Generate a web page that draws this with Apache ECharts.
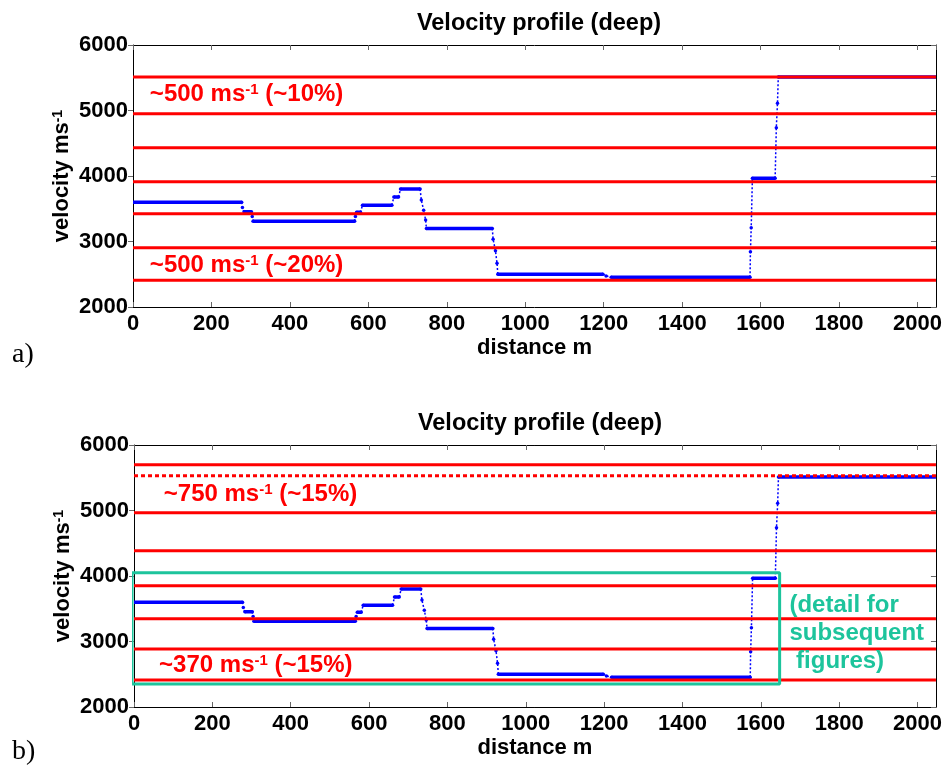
<!DOCTYPE html>
<html><head><meta charset="utf-8">
<script src="https://cdn.jsdelivr.net/npm/echarts@6/dist/echarts.min.js"></script>
<style>html,body{margin:0;padding:0;background:#fff}#c{width:945px;height:767px}</style>
</head><body><div id="c"></div>
<script>
// ---- data ----
const distanceMin = 0;
const distanceMax = 2047;
const distanceStep = 200;
const velocityMin = 2000;
const velocityMax = 6000;
const velocityStep = 1000;

const profileDistance = [0, 277, 279, 283, 302, 304, 306, 565, 567, 570, 580, 585, 660, 665, 677, 682, 732, 735, 741, 746, 748, 916, 918, 924, 928, 930, 1198, 1206, 1219, 1573, 1574, 1576, 1579, 1637, 1640, 1643, 1645, 2047];
const profileVelocity = [3600, 3600, 3520, 3455, 3455, 3380, 3310, 3310, 3380, 3445, 3445, 3555, 3555, 3680, 3680, 3800, 3800, 3634, 3476, 3328, 3200, 3200, 3033, 2860, 2667, 2500, 2500, 2475, 2455, 2455, 2845, 3211, 3965, 3965, 4738, 5110, 5510, 5510];

const boundsA = [5511, 4951, 4433, 3913, 3425, 2906, 2407];
const boundsB = [5700, 4967, 4387, 3852, 3348, 2885, 2412];
const boundsBDotted = [5530];

const detailBoxDistance = [-5, 1648];
const detailBoxVelocity = [2350, 4050];

const titleText = 'Velocity profile (deep)';
const xName = 'distance m';
const labelsA = ['~500 ms|-1| (~10%)', '~500 ms|-1| (~20%)'];
const labelsB = ['~750 ms|-1| (~15%)', '~370 ms|-1| (~15%)'];
const detailText = ['(detail for', 'subsequent', ' figures)'];
const panelTags = ['a)', 'b)'];

// ---- chart ----
const FONT = 'Arial, "Liberation Sans", Helvetica, sans-serif';
const chart = echarts.init(document.getElementById('c'));
const grids = [
  {left: 133, top: 45, right: 8, height: 262},
  {left: 134, top: 445, right: 8, height: 262}
];

const xAxes = [], yAxes = [];
grids.forEach((g, gi) => {
  const base = {type: 'value', gridIndex: gi, splitLine: {show: false}};
  xAxes.push(Object.assign({}, base, {
    position: 'bottom', min: distanceMin, max: distanceMax, interval: distanceStep,
    name: xName, nameLocation: 'middle', nameGap: 30, nameMoveOverlap: false,
    nameTextStyle: {fontFamily: FONT, fontWeight: 'bold', fontSize: 22, color: '#000'},
    axisLine: {show: true, onZero: false, lineStyle: {color: '#000', width: 1}},
    axisTick: {show: true, inside: true, length: 5, lineStyle: {color: '#666'}},
    axisLabel: {show: true, margin: 6, showMaxLabel: false, fontFamily: FONT, fontWeight: 'bold', fontSize: 22, color: '#000',
      formatter: v => (v % distanceStep === 0 ? String(v) : '')}
  }));
  xAxes.push(Object.assign({}, base, {
    position: 'top', min: distanceMin, max: distanceMax, interval: distanceStep,
    axisLine: {show: true, onZero: false, lineStyle: {color: '#000', width: 1}},
    axisTick: {show: true, inside: true, length: 5, lineStyle: {color: '#666'}},
    axisLabel: {show: false}
  }));
  yAxes.push(Object.assign({}, base, {
    position: 'left', min: velocityMin, max: velocityMax, interval: velocityStep,
    name: '{a|velocity ms}{s|-1}', nameLocation: 'middle', nameRotate: 90, nameGap: 60, nameMoveOverlap: false,
    nameTextStyle: {rich: {
      a: {fontFamily: FONT, fontWeight: 'bold', fontSize: 22, color: '#000'},
      s: {fontFamily: FONT, fontWeight: 'bold', fontSize: 14, color: '#000', verticalAlign: 'top'}
    }},
    axisLine: {show: true, onZero: false, lineStyle: {color: '#000', width: 1}},
    axisTick: {show: true, inside: false, length: 5, lineStyle: {color: '#666'}},
    axisLabel: {show: true, margin: 5, fontFamily: FONT, fontWeight: 'bold', fontSize: 22, color: '#000',
      formatter: v => String(v)}
  }));
  yAxes.push(Object.assign({}, base, {
    position: 'right', min: velocityMin, max: velocityMax, interval: velocityStep,
    axisLine: {show: true, onZero: false, lineStyle: {color: '#000', width: 1}},
    axisTick: {show: true, inside: true, length: 5, lineStyle: {color: '#666'}},
    axisLabel: {show: false}
  }));
});

const series = [];
function addProfile(gi) {
  const ax = {xAxisIndex: gi * 2, yAxisIndex: gi * 2};
  const plateau = d => Object.assign({type: 'line', data: d, symbol: 'none', silent: true, z: 2,
    lineStyle: {color: '#0000ff', width: 3.5}}, ax);
  const trans = d => Object.assign({type: 'line', data: d, symbol: 'circle', symbolSize: 3.5, showSymbol: true, silent: true, z: 2,
    itemStyle: {color: '#0000ff'}, lineStyle: {color: '#0000ff', width: 1.5, type: [2, 2]}}, ax);
  let run = null;
  for (let i = 0; i < profileDistance.length - 1; i++) {
    const a = [profileDistance[i], profileVelocity[i]];
    const b = [profileDistance[i + 1], profileVelocity[i + 1]];
    if (a[1] === b[1]) {
      if (run) { series.push(trans(run)); run = null; }
      series.push(plateau([a, b]));
    } else {
      if (!run) run = [a];
      run.push(b);
    }
  }
  if (run) series.push(trans(run));
}
function addBounds(gi, vals, dotted) {
  vals.forEach(v => series.push({
    type: 'line', xAxisIndex: gi * 2, yAxisIndex: gi * 2, symbol: 'none', silent: true, z: 3,
    data: [[distanceMin, v], [distanceMax, v]],
    lineStyle: {color: '#ff0000', width: 3, type: dotted ? [4, 3] : 'solid'}
  }));
}
addProfile(0);
addProfile(1);
addBounds(0, boundsA, false);
addBounds(1, boundsB, false);
addBounds(1, boundsBDotted, true);
series.push({
  type: 'line', xAxisIndex: 2, yAxisIndex: 2, symbol: 'none', silent: true, z: 4, clip: false,
  data: [[detailBoxDistance[0], detailBoxVelocity[0]], [detailBoxDistance[1], detailBoxVelocity[0]],
         [detailBoxDistance[1], detailBoxVelocity[1]], [detailBoxDistance[0], detailBoxVelocity[1]],
         [detailBoxDistance[0], detailBoxVelocity[0]]],
  lineStyle: {color: '#1dc49c', width: 3}
});

chart.setOption({
  animation: false,
  backgroundColor: '#fff',
  title: [
    {text: titleText, left: 534, top: 7, textAlign: 'center', textStyle: {fontFamily: FONT, fontWeight: 'bold', fontSize: 23.5, color: '#000'}},
    {text: titleText, left: 535, top: 407, textAlign: 'center', textStyle: {fontFamily: FONT, fontWeight: 'bold', fontSize: 23.5, color: '#000'}}
  ],
  grid: grids,
  xAxis: xAxes,
  yAxis: yAxes,
  series: series
});

// ---- annotations placed through the axes ----
function richLabel(str) {
  const p = str.split('|');
  return '{m|' + p[0] + '}{s|' + p[1] + '}{m|' + p[2] + '}';
}
const redRich = {
  m: {fontFamily: FONT, fontWeight: 'bold', fontSize: 24, fill: '#ff0000', color: '#ff0000'},
  s: {fontFamily: FONT, fontWeight: 'bold', fontSize: 15, fill: '#ff0000', color: '#ff0000', verticalAlign: 'top'}
};
const labelSpots = [
  {gi: 0, d: 43, v: 5247, t: labelsA[0]},
  {gi: 0, d: 43, v: 2641, t: labelsA[1]},
  {gi: 1, d: 76, v: 5252, t: labelsB[0]},
  {gi: 1, d: 64, v: 2630, t: labelsB[1]}
];
const graphics = labelSpots.map(s => {
  const p = chart.convertToPixel({xAxisIndex: s.gi * 2, yAxisIndex: s.gi * 2}, [s.d, s.v]);
  return {type: 'text', x: p[0], y: p[1], z: 10, silent: true,
    style: {text: richLabel(s.t), rich: redRich, verticalAlign: 'middle', align: 'left'}};
});
const dp = chart.convertToPixel({xAxisIndex: 2, yAxisIndex: 2}, [1673, 3130]);
graphics.push({type: 'text', x: dp[0], y: dp[1], z: 10, silent: true,
  style: {text: detailText.join('\n'), fill: '#1dc49c', fontFamily: FONT, fontWeight: 'bold', fontSize: 24,
    lineHeight: 28, verticalAlign: 'middle', align: 'left'}});
graphics.push({type: 'text', x: 12, y: 355, silent: true,
  style: {text: panelTags[0], fill: '#000', fontFamily: '"Times New Roman", "Liberation Serif", serif', fontSize: 28, verticalAlign: 'middle'}});
graphics.push({type: 'text', x: 12, y: 752, silent: true,
  style: {text: panelTags[1], fill: '#000', fontFamily: '"Times New Roman", "Liberation Serif", serif', fontSize: 28, verticalAlign: 'middle'}});
chart.setOption({graphic: graphics});
</script></body></html>
